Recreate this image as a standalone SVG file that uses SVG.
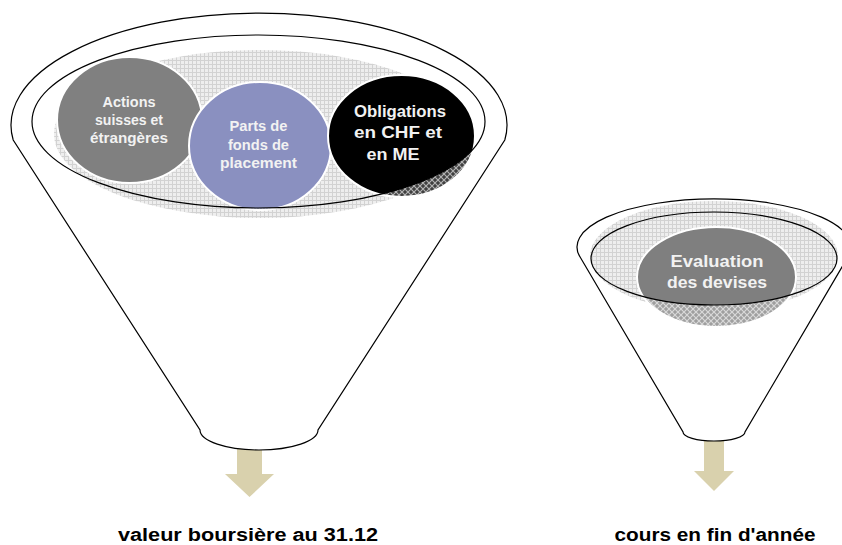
<svg xmlns="http://www.w3.org/2000/svg" width="842" height="545" viewBox="0 0 842 545">
  <defs>
    <pattern id="grid" width="4" height="4" patternUnits="userSpaceOnUse">
      <rect width="4" height="4" fill="#eeeeee"/>
      <path d="M0,0.5H4M0.5,0V4" stroke="#d2d2d2" stroke-width="1" fill="none"/>
    </pattern>
    <pattern id="veil" width="6" height="6" patternUnits="userSpaceOnUse">
      <rect width="6" height="6" fill="#ffffff" fill-opacity="0.25"/>
      <path d="M0,0L6,6M6,0L0,6" stroke="#ffffff" stroke-opacity="0.6" stroke-width="1.2" fill="none"/>
    </pattern>
    <clipPath id="outBig">
      <path clip-rule="evenodd" d="M0,0H842V545H0Z M32,121.5 A226.5 86.5 0 1 0 485,121.5 A226.5 86.5 0 1 0 32,121.5Z"/>
    </clipPath>
    <clipPath id="outSmall">
      <path clip-rule="evenodd" d="M0,0H842V545H0Z M591,258.5 A123 46.5 0 1 0 837,258.5 A123 46.5 0 1 0 591,258.5Z"/>
    </clipPath>
  </defs>
  <style>
    .funnel { fill: #ffffff; stroke: #000000; stroke-width: 1.2; }
    .rim { fill: none; stroke: #000000; stroke-width: 1.2; }
    .hatch { fill: url(#grid); }
    .veil { fill: url(#veil); }
    .bub { stroke: #ffffff; stroke-width: 2; }
    .lbl { font-family: "Liberation Sans", Arial, sans-serif; font-weight: bold; fill: #f2f2f2; text-anchor: middle; }
    .out { font-family: "Liberation Sans", Arial, sans-serif; font-weight: bold; font-size: 18px; fill: #000000; text-anchor: middle; }
    .arrow { fill: #d9d1ad; }
  </style>

  <g id="connectors">
    <path class="arrow" d="M237,449H262V474H274L249.5,497L225,474H237Z"/>
    <path class="arrow" d="M704,440H724V471H734L714,491L694,471H704Z"/>
  </g>

  <g id="funnel-left">
    <path class="funnel" d="M13.2,140 A248 112 0 1 1 504.8,140 L318,430 A59 20 0 0 1 200,430 Z"/>
    <ellipse class="hatch" cx="260" cy="134" rx="206" ry="84"/>
  </g>

  <g id="node-actions">
    <ellipse class="bub" cx="129.5" cy="120" rx="72.5" ry="63" fill="#808080"/>
  </g>
  <g id="node-parts">
    <ellipse class="bub" cx="260" cy="146" rx="71" ry="64" fill="#8a90c0"/>
  </g>
  <g id="node-obligations">
    <ellipse class="bub" cx="401.5" cy="136" rx="73.5" ry="61" fill="#000000"/>
  </g>
  <g clip-path="url(#outBig)">
    <ellipse class="veil" cx="401.5" cy="136" rx="73.5" ry="61"/>
    <ellipse class="veil" cx="260" cy="146" rx="71" ry="64"/>
  </g>
  <ellipse class="rim" cx="258.5" cy="121.5" rx="226.5" ry="86.5"/>

  <g id="text-actions" class="lbl" font-size="14.5">
    <text x="129" y="107" textLength="53" lengthAdjust="spacingAndGlyphs">Actions</text>
    <text x="129" y="125" textLength="68" lengthAdjust="spacingAndGlyphs">suisses et</text>
    <text x="129" y="143" textLength="78" lengthAdjust="spacingAndGlyphs">étrangères</text>
  </g>
  <g id="text-parts" class="lbl" font-size="14.5">
    <text x="258.5" y="131" textLength="58" lengthAdjust="spacingAndGlyphs">Parts de</text>
    <text x="258.5" y="150" textLength="61" lengthAdjust="spacingAndGlyphs">fonds de</text>
    <text x="258.5" y="168" textLength="77" lengthAdjust="spacingAndGlyphs">placement</text>
  </g>
  <g id="text-obligations" class="lbl" font-size="17">
    <text x="400" y="117" textLength="92" lengthAdjust="spacingAndGlyphs">Obligations</text>
    <text x="398" y="138" textLength="88" lengthAdjust="spacingAndGlyphs">en CHF et</text>
    <text x="393" y="160" textLength="53" lengthAdjust="spacingAndGlyphs">en ME</text>
  </g>

  <g id="funnel-right">
    <path class="funnel" d="M580.7,258 A137 48 0 1 1 847.3,258 L745,432 A31 9 0 0 1 683,432 Z"/>
    <ellipse class="hatch" cx="714" cy="256" rx="124" ry="55"/>
  </g>
  <g id="node-evaluation">
    <ellipse class="bub" cx="716.5" cy="277" rx="79.5" ry="50" fill="#7f7f7f"/>
  </g>
  <g clip-path="url(#outSmall)">
    <ellipse class="veil" cx="716.5" cy="277" rx="79.5" ry="50"/>
  </g>
  <ellipse class="rim" cx="714" cy="258.5" rx="123" ry="46.5"/>
  <g id="text-evaluation" class="lbl" font-size="16.5">
    <text x="717" y="267" textLength="93" lengthAdjust="spacingAndGlyphs">Evaluation</text>
    <text x="717" y="288" textLength="100" lengthAdjust="spacingAndGlyphs">des devises</text>
  </g>

  <g id="label-left">
    <text class="out" x="248" y="541" textLength="260" lengthAdjust="spacingAndGlyphs">valeur boursière au 31.12</text>
  </g>
  <g id="label-right">
    <text class="out" x="715" y="541" textLength="201" lengthAdjust="spacingAndGlyphs">cours en fin d'année</text>
  </g>
</svg>
